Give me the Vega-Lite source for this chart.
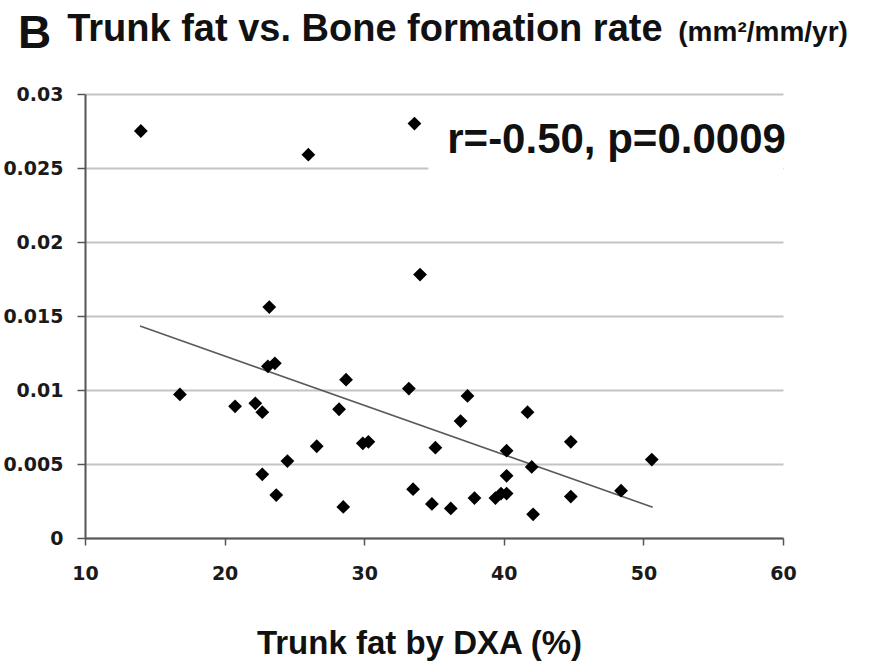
{
  "$schema": "https://vega.github.io/schema/vega-lite/v6.json",
  "width": 698,
  "height": 444,
  "autosize": "none",
  "padding": {"left": 85, "top": 94, "right": 87, "bottom": 123},
  "background": "white",
  "config": {
    "view": {"stroke": null},
    "axis": {"labelFont": "DejaVu Sans", "labelFontWeight": "bold", "labelColor": "#1a1a1a", "labelFontSize": 19, "labelFlush": false}
  },
  "datasets": {
    "points": [
      {"fat": 14.0, "bfr": 0.0275},
      {"fat": 26.0, "bfr": 0.0259},
      {"fat": 33.6, "bfr": 0.0280},
      {"fat": 34.0, "bfr": 0.0178},
      {"fat": 23.2, "bfr": 0.0156},
      {"fat": 23.1, "bfr": 0.0116},
      {"fat": 23.6, "bfr": 0.0118},
      {"fat": 16.8, "bfr": 0.0097},
      {"fat": 20.75, "bfr": 0.0089},
      {"fat": 22.2, "bfr": 0.0091},
      {"fat": 22.7, "bfr": 0.0085},
      {"fat": 28.7, "bfr": 0.0107},
      {"fat": 28.2, "bfr": 0.0087},
      {"fat": 33.2, "bfr": 0.0101},
      {"fat": 26.6, "bfr": 0.0062},
      {"fat": 29.9, "bfr": 0.0064},
      {"fat": 30.3, "bfr": 0.0065},
      {"fat": 24.5, "bfr": 0.0052},
      {"fat": 22.7, "bfr": 0.0043},
      {"fat": 23.7, "bfr": 0.0029},
      {"fat": 28.5, "bfr": 0.0021},
      {"fat": 33.5, "bfr": 0.0033},
      {"fat": 37.4, "bfr": 0.0096},
      {"fat": 36.9, "bfr": 0.0079},
      {"fat": 35.1, "bfr": 0.0061},
      {"fat": 41.7, "bfr": 0.0085},
      {"fat": 44.8, "bfr": 0.0065},
      {"fat": 40.2, "bfr": 0.0059},
      {"fat": 50.6, "bfr": 0.0053},
      {"fat": 42.0, "bfr": 0.0048},
      {"fat": 40.2, "bfr": 0.0042},
      {"fat": 34.85, "bfr": 0.0023},
      {"fat": 36.2, "bfr": 0.0020},
      {"fat": 37.9, "bfr": 0.0027},
      {"fat": 39.4, "bfr": 0.0027},
      {"fat": 39.8, "bfr": 0.0030},
      {"fat": 40.2, "bfr": 0.0030},
      {"fat": 44.8, "bfr": 0.0028},
      {"fat": 48.4, "bfr": 0.0032},
      {"fat": 42.1, "bfr": 0.0016}
    ],
    "trend": [
      {"fat": 13.94, "bfr": 0.01432},
      {"fat": 50.67, "bfr": 0.00207}
    ],
    "one": [{}]
  },
  "layer": [
    {
      "data": {"name": "one"},
      "mark": {"type": "rect", "color": "white", "clip": false},
      "encoding": {
        "x": {"datum": 34.6, "type": "quantitative"},
        "x2": {"datum": 60},
        "y": {"datum": 0.0236, "type": "quantitative"},
        "y2": {"datum": 0.0272}
      }
    },
    {
      "data": {"name": "trend"},
      "mark": {"type": "line", "color": "#5a5a5a", "strokeWidth": 1.6},
      "encoding": {
        "x": {"field": "fat", "type": "quantitative"},
        "y": {"field": "bfr", "type": "quantitative"}
      }
    },
    {
      "data": {"name": "points"},
      "mark": {"type": "point", "shape": "diamond", "filled": true, "color": "#000", "size": 190, "opacity": 1},
      "encoding": {
        "x": {
          "field": "fat", "type": "quantitative",
          "scale": {"domain": [10, 60], "nice": false, "zero": false},
          "axis": {
            "values": [10, 20, 30, 40, 50, 60],
            "grid": false,
            "domainColor": "#555", "domainWidth": 2,
            "tickColor": "#555", "tickSize": 7, "tickWidth": 1.5,
            "labelPadding": 19,
            "title": "Trunk fat by DXA (%)",
            "titleFont": "Liberation Sans", "titleFontSize": 33, "titleFontWeight": "bold", "titleColor": "#111",
            "titleBaseline": "alphabetic", "titleY": 115, "titleX": 334
          }
        },
        "y": {
          "field": "bfr", "type": "quantitative",
          "scale": {"domain": [0, 0.03], "nice": false},
          "axis": {
            "values": [0, 0.005, 0.01, 0.015, 0.02, 0.025, 0.03],
            "format": "~g",
            "grid": true, "gridColor": "#c4c4c4", "gridWidth": 2,
            "domainColor": "#555", "domainWidth": 2,
            "tickColor": "#555", "tickSize": 8, "tickWidth": 1.5,
            "labelPadding": 14,
            "title": null
          }
        }
      }
    },
    {
      "data": {"name": "one"},
      "mark": {"type": "text", "align": "left", "baseline": "alphabetic", "font": "Liberation Sans", "fontSize": 42, "fontWeight": "bold", "color": "#111"},
      "encoding": {
        "x": {"datum": 35.95, "type": "quantitative"},
        "y": {"datum": 0.026, "type": "quantitative"},
        "text": {"value": "r=-0.50, p=0.0009"}
      }
    },
    {
      "data": {"name": "one"},
      "mark": {"type": "text", "align": "left", "baseline": "alphabetic", "font": "Liberation Sans", "fontSize": 46, "fontWeight": "bold", "color": "#111", "clip": false},
      "encoding": {
        "x": {"datum": 5.2, "type": "quantitative"},
        "y": {"datum": 0.03311, "type": "quantitative"},
        "text": {"value": "B"}
      }
    },
    {
      "data": {"name": "one"},
      "mark": {"type": "text", "align": "left", "baseline": "alphabetic", "font": "Liberation Sans", "fontSize": 38, "fontWeight": "bold", "color": "#111", "clip": false},
      "encoding": {
        "x": {"datum": 8.72, "type": "quantitative"},
        "y": {"datum": 0.03358, "type": "quantitative"},
        "text": {"value": "Trunk fat vs. Bone formation rate"}
      }
    },
    {
      "data": {"name": "one"},
      "mark": {"type": "text", "align": "left", "baseline": "alphabetic", "font": "Liberation Sans", "fontSize": 28, "fontWeight": "bold", "color": "#111", "clip": false},
      "encoding": {
        "x": {"datum": 52.5, "type": "quantitative"},
        "y": {"datum": 0.03358, "type": "quantitative"},
        "text": {"value": "(mm²/mm/yr)"}
      }
    }
  ]
}
